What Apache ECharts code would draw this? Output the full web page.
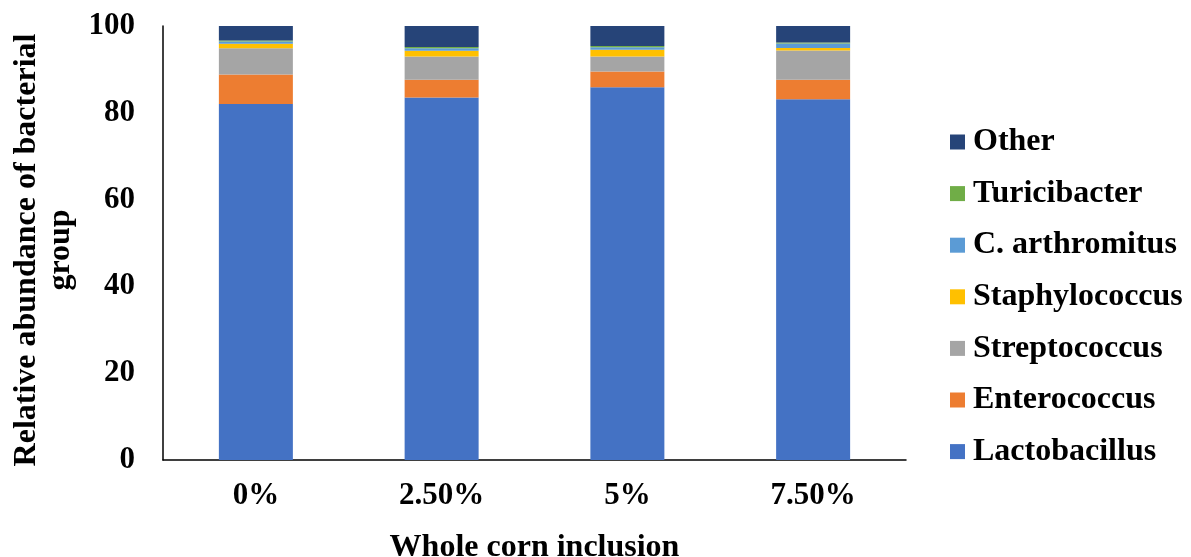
<!DOCTYPE html>
<html>
<head>
<meta charset="utf-8">
<script src="https://cdn.jsdelivr.net/npm/echarts@6/dist/echarts.min.js"></script>
<style>
  html, body { margin: 0; padding: 0; background: #fff; }
  #chart { width: 1191px; height: 557px; }
</style>
</head>
<body>
<div id="chart"></div>
<script>
// Whole corn inclusion levels
const categories = ['0%', '2.50%', '5%', '7.50%'];

// Relative abundance (%) of each bacterial group, stacked bottom to top
const lactobacillus  = [82.0, 83.5, 85.9, 83.1];
const enterococcus   = [6.8, 4.1, 3.6, 4.5];
const streptococcus  = [6.1, 5.4, 3.5, 6.75];
const staphylococcus = [1.0, 1.3, 1.5, 0.6];
const cArthromitus   = [0.5, 0.6, 0.6, 1.0];
const turicibacter   = [0.25, 0.25, 0.3, 0.25];
const other          = [3.35, 4.85, 4.6, 3.8];

const yTicks = { min: 0, max: 100, interval: 20 };

const groups = [
  { name: 'Lactobacillus', data: lactobacillus, color: '#4472C4' },
  { name: 'Enterococcus', data: enterococcus, color: '#ED7D31' },
  { name: 'Streptococcus', data: streptococcus, color: '#A5A5A5' },
  { name: 'Staphylococcus', data: staphylococcus, color: '#FFC000' },
  { name: 'C. arthromitus', data: cArthromitus, color: '#5B9BD5' },
  { name: 'Turicibacter', data: turicibacter, color: '#70AD47' },
  { name: 'Other', data: other, color: '#264478' }
];

const font = 'Liberation Serif, Times New Roman, serif';

const chart = echarts.init(document.getElementById('chart'), null, { renderer: 'canvas' });
chart.setOption({
  animation: false,
  backgroundColor: '#fff',
  grid: { left: 163, top: 26, width: 743, height: 434, containLabel: false, outerBoundsMode: 'none' },
  legend: {
    orient: 'vertical',
    left: 945,
    top: 121,
    itemWidth: 15,
    itemHeight: 15,
    itemGap: 19.6,
    icon: 'rect',
    data: groups.map(g => g.name).reverse(),
    textStyle: { fontFamily: font, fontWeight: 'bold', fontSize: 32, lineHeight: 32, color: '#000', padding: [0, 0, 0, 3] }
  },
  xAxis: {
    type: 'category',
    data: categories,
    name: 'Whole corn inclusion',
    nameLocation: 'middle',
    nameGap: 72,
    nameTextStyle: { fontFamily: font, fontWeight: 'bold', fontSize: 32, color: '#000' },
    axisLine: { lineStyle: { color: '#000', width: 1.5 } },
    axisTick: { show: false },
    axisLabel: { fontFamily: font, fontWeight: 'bold', fontSize: 31, color: '#000', margin: 20 }
  },
  yAxis: {
    type: 'value',
    min: yTicks.min,
    max: yTicks.max,
    interval: yTicks.interval,
    name: 'Relative abundance of bacterial\ngroup',
    nameLocation: 'middle',
    nameGap: 81,
    nameRotate: 90,
    nameTextStyle: { fontFamily: font, fontWeight: 'bold', fontSize: 32, color: '#000', lineHeight: 34, padding: [0, 14, 0, 0] },
    axisLine: { show: true, lineStyle: { color: '#000', width: 1.5 } },
    axisTick: { show: false },
    splitLine: { show: false },
    axisLabel: { fontFamily: font, fontWeight: 'bold', fontSize: 31, color: '#000', margin: 28 }
  },
  series: groups.map(g => ({
    name: g.name,
    type: 'bar',
    stack: 'total',
    barWidth: 74,
    data: g.data,
    itemStyle: { color: g.color }
  }))
});
</script>
</body>
</html>
